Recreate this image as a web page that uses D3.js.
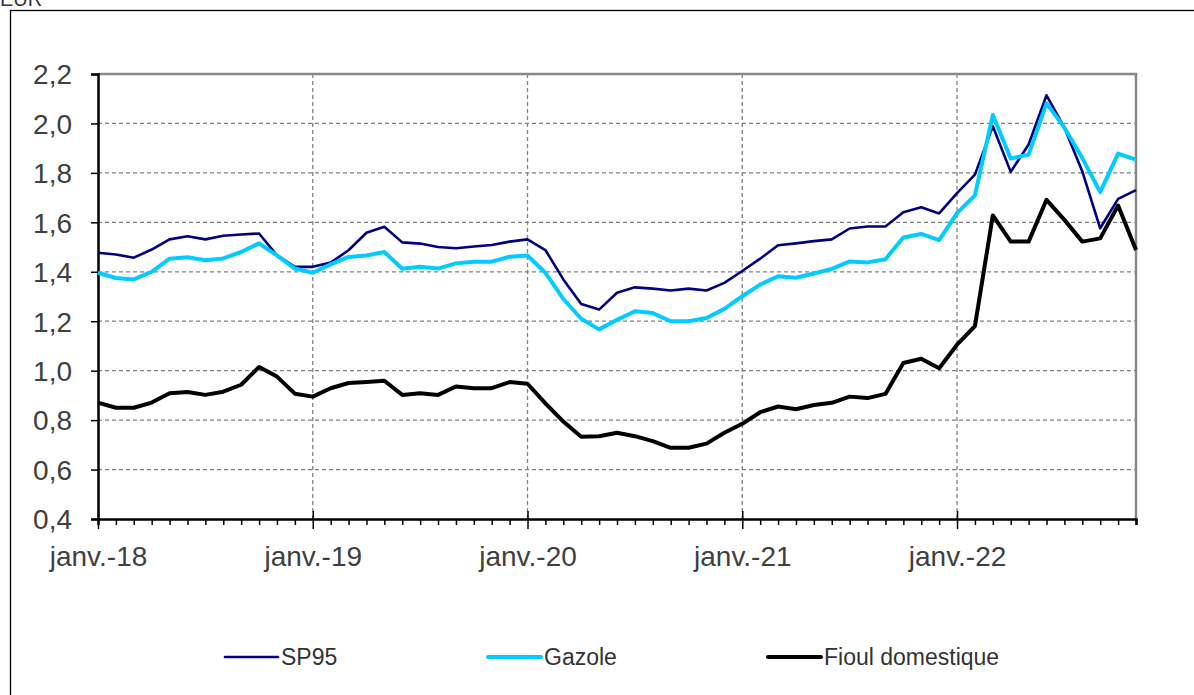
<!DOCTYPE html>
<html>
<head>
	<title>Prix des carburants</title>
	<meta charset="utf-8">
	<style>
		body { margin: 0; background: #fff; }
		svg { display: block; font-family: "Liberation Sans", Arial, sans-serif; }
		.grid line { stroke: #808080; stroke-width: 1.3; stroke-dasharray: 4,3; }
		.axis-y text, .axis-x text { font-size: 28px; fill: #404040; }
		.legend text { font-size: 23px; fill: #333; }
	</style>
</head>
<body>
	<div class="chart"></div>

	<script src="https://d3js.org/d3.v7.min.js"></script>
	<script>
		// Series, monthly from janv. 2018 to nov. 2022 (EUR per litre)
		var sp95 = [1.477, 1.47, 1.457, 1.49, 1.531, 1.544, 1.531, 1.546, 1.551, 1.555, 1.467, 1.42,
			1.42, 1.437, 1.487, 1.558, 1.582, 1.519, 1.514, 1.50, 1.495, 1.502, 1.508, 1.522,
			1.531, 1.488, 1.369, 1.27, 1.247, 1.315, 1.337, 1.332, 1.324, 1.332, 1.324, 1.355,
			1.403, 1.453, 1.507, 1.515, 1.524, 1.531, 1.575, 1.583, 1.583, 1.641, 1.661, 1.636,
			1.718, 1.793, 1.989, 1.804, 1.915, 2.114, 1.983, 1.806, 1.576, 1.695, 1.73];
		var gazole = [1.396, 1.375, 1.369, 1.40, 1.453, 1.459, 1.447, 1.454, 1.48, 1.515, 1.466, 1.413,
			1.396, 1.43, 1.46, 1.466, 1.48, 1.412, 1.42, 1.413, 1.434, 1.441, 1.441, 1.461,
			1.466, 1.396, 1.29, 1.21, 1.167, 1.206, 1.24, 1.233, 1.20, 1.20, 1.213, 1.25,
			1.301, 1.348, 1.382, 1.376, 1.393, 1.412, 1.442, 1.438, 1.451, 1.539, 1.553, 1.528,
			1.637, 1.709, 2.034, 1.858, 1.874, 2.081, 1.983, 1.86, 1.722, 1.878, 1.854];
		var fioul = [0.871, 0.85, 0.85, 0.871, 0.909, 0.914, 0.902, 0.915, 0.943, 1.015, 0.976, 0.907,
			0.895, 0.929, 0.95, 0.954, 0.959, 0.902, 0.909, 0.902, 0.936, 0.929, 0.929, 0.954,
			0.947, 0.868, 0.794, 0.733, 0.735, 0.749, 0.735, 0.715, 0.688, 0.688, 0.705, 0.749,
			0.785, 0.832, 0.855, 0.844, 0.861, 0.87, 0.895, 0.889, 0.906, 1.031, 1.048, 1.01,
			1.105, 1.18, 1.628, 1.522, 1.522, 1.691, 1.61, 1.522, 1.535, 1.668, 1.488];

		var years = ["18", "19", "20", "21", "22"];
		var monthNames = ["janv.", "févr.", "mars", "avr.", "mai", "juin", "juil.", "août", "sept.", "oct.", "nov.", "déc."];
		var yTicks = [0.4, 0.6, 0.8, 1.0, 1.2, 1.4, 1.6, 1.8, 2.0, 2.2];
		var seriesNames = ["SP95", "Gazole", "Fioul domestique"];

		// Month categories built from years and month names
		var months = [];
		years.forEach(function(y) {
			monthNames.forEach(function(m) { months.push(m + "-" + y); });
		});
		months = months.slice(0, sp95.length);

		var W = 1194, H = 695;
		var plotLeft = 98, plotRight = 1136, plotTop = 74, plotBottom = 519;

		var svg = d3.select(".chart")
			.append("svg")
			.attr("width", W)
			.attr("height", H);

		// outer frame and unit
		svg.append("rect")
			.attr("x", 10.5).attr("y", 10.5)
			.attr("width", W + 20).attr("height", H + 20)
			.attr("fill", "none").attr("stroke", "#000").attr("stroke-width", 1.3);

		svg.append("text")
			.attr("x", 0).attr("y", 6)
			.style("font-size", "20px").style("fill", "#333")
			.text("EUR");

		var x = d3.scalePoint().domain(months).range([plotLeft, plotRight]);
		var y = d3.scaleLinear().domain([0.4, 2.2]).range([plotBottom, plotTop]);

		// horizontal grid
		svg.append("g").attr("class", "grid")
			.selectAll("line")
			.data(yTicks.slice(1, -1))
			.enter().append("line")
			.attr("x1", plotLeft).attr("x2", plotRight)
			.attr("y1", function(d) { return y(d); })
			.attr("y2", function(d) { return y(d); });

		// vertical grid at each january
		var janMonths = months.filter(function(m) { return m.indexOf("janv.") === 0; });
		svg.append("g").attr("class", "grid")
			.selectAll("line")
			.data(janMonths.slice(1))
			.enter().append("line")
			.attr("x1", function(d) { return x(d); })
			.attr("x2", function(d) { return x(d); })
			.attr("y1", plotTop).attr("y2", plotBottom);

		// plot border (top and right)
		svg.append("path")
			.attr("d", "M" + plotLeft + "," + plotTop + "H" + plotRight + "V" + plotBottom)
			.attr("fill", "none").attr("stroke", "#888").attr("stroke-width", 2.5);

		// y axis
		var yAxis = svg.append("g")
			.attr("class", "axis-y")
			.attr("transform", "translate(" + plotLeft + ",0)")
			.call(d3.axisLeft(y).tickValues(yTicks).tickSize(7).tickPadding(19)
				.tickFormat(function(d) { return d.toFixed(1).replace(".", ","); }));
		yAxis.select(".domain").attr("stroke", "#000").attr("stroke-width", 2.5);
		yAxis.selectAll(".tick line").attr("stroke", "#000").attr("stroke-width", 1.5);
		yAxis.selectAll(".tick text").attr("dy", "0.35em");

		// x axis: minor ticks every month, labels every january
		var xAxis = svg.append("g")
			.attr("class", "axis-x")
			.attr("transform", "translate(0," + plotBottom + ")")
			.call(d3.axisBottom(x).tickSize(6).tickPadding(21)
				.tickFormat(function(d) { return d.indexOf("janv.") === 0 ? d : ""; }));
		xAxis.select(".domain").attr("stroke", "#000").attr("stroke-width", 2.5);
		xAxis.selectAll(".tick line").attr("stroke", "#000").attr("stroke-width", 1.5)
			.attr("y1", function(d) { return d.indexOf("janv.") === 0 ? -8 : 0; })
			.attr("y2", function(d) { return d.indexOf("janv.") === 0 ? 10 : 6; });
		xAxis.selectAll(".tick text").attr("dy", "0.71em");

		// lines
		var series = [
			{ name: seriesNames[0], values: sp95, color: "#000080", width: 2.6 },
			{ name: seriesNames[1], values: gazole, color: "#00CCFF", width: 4 },
			{ name: seriesNames[2], values: fioul, color: "#000000", width: 4 }
		];

		var line = d3.line()
			.x(function(d, i) { return x(months[i]); })
			.y(function(d) { return y(d); });

		svg.selectAll(".series")
			.data(series)
			.enter().append("path")
			.attr("class", "series")
			.attr("fill", "none")
			.attr("stroke", function(d) { return d.color; })
			.attr("stroke-width", function(d) { return d.width; })
			.attr("stroke-linejoin", "round")
			.attr("d", function(d) { return line(d.values); });

		// legend
		var legendX = [225, 488, 768];
		var legend = svg.selectAll(".legend")
			.data(series)
			.enter().append("g")
			.attr("class", "legend")
			.attr("transform", function(d, i) { return "translate(" + legendX[i] + ",657)"; });

		legend.append("line")
			.attr("x1", 0).attr("x2", 53)
			.attr("stroke", function(d) { return d.color; })
			.attr("stroke-width", function(d) { return d.width; })
			.attr("stroke-linecap", "round");

		legend.append("text")
			.attr("x", 56)
			.attr("dy", "0.35em")
			.text(function(d) { return d.name; });
	</script>
</body>
</html>
